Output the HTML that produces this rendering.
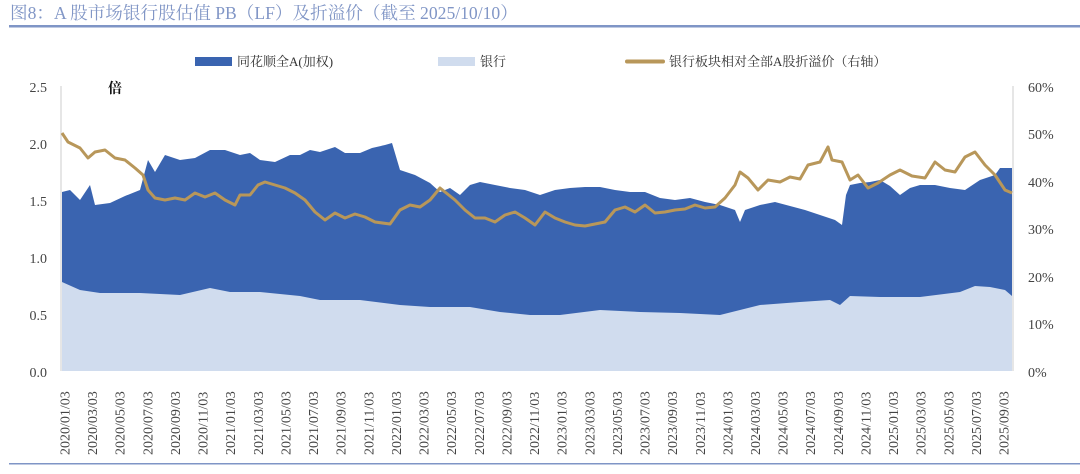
<!DOCTYPE html>
<html><head><meta charset="utf-8"><style>
html,body{margin:0;padding:0;background:#fff;}
body{width:1080px;height:469px;overflow:hidden;}
text{font-family:"Liberation Serif","Noto Serif CJK SC","Noto Sans CJK SC",serif;}
</style></head><body>
<svg width="1080" height="469" viewBox="0 0 1080 469" xmlns="http://www.w3.org/2000/svg">
<text x="10" y="19" font-size="17.6" fill="#8196c6">图8：A 股市场银行股估值 PB（LF）及折溢价（截至 2025/10/10）</text>
<rect x="9" y="25" width="1071" height="2.5" fill="#7f95c6"/>
<rect x="9" y="463" width="1071" height="1.5" fill="#7f95c6"/>
<rect x="195" y="57" width="37" height="9" fill="#3a64b0"/>
<text x="237" y="66" font-size="13" fill="#333">同花顺全A(加权)</text>
<rect x="438" y="57" width="37" height="9" fill="#d0dcee"/>
<text x="480" y="66" font-size="13" fill="#333">银行</text>
<rect x="625" y="59.5" width="40" height="4" rx="2" fill="#b8975a"/>
<text x="669" y="66" font-size="13" fill="#333">银行板块相对全部A股折溢价（右轴）</text>
<text x="108" y="93" font-size="14" font-weight="bold" fill="#111">倍</text>
<line x1="61" y1="86" x2="61" y2="371" stroke="#ccc"/>
<line x1="1013" y1="86" x2="1013" y2="371" stroke="#ccc"/>
<g font-size="14" fill="#444" text-anchor="end">
<text x="47" y="92">2.5</text><text x="47" y="149">2.0</text><text x="47" y="206">1.5</text>
<text x="47" y="263">1.0</text><text x="47" y="320">0.5</text><text x="47" y="377">0.0</text>
</g>
<g font-size="14" fill="#444">
<text x="1028" y="92">60%</text><text x="1028" y="139">50%</text><text x="1028" y="187">40%</text>
<text x="1028" y="234">30%</text><text x="1028" y="282">20%</text><text x="1028" y="329">10%</text><text x="1028" y="377">0%</text>
</g>
<polygon fill="#3a64b0" points="62,371 62,192 70,190 80,200 90,185 95,205 110,203 125,196 140,190 148,160 155,172 165,155 180,160 195,158 210,150 225,150 240,155 250,153 260,160 275,162 290,155 300,155 310,150 320,152 335,147 345,153 360,153 372,148 385,145 392,143 400,170 415,175 430,183 440,192 450,188 460,195 470,185 480,182 495,185 510,188 525,190 540,195 555,190 570,188 585,187 600,187 615,190 630,192 645,192 660,198 675,200 690,198 705,202 720,205 735,210 740,222 745,210 760,205 775,202 790,206 805,210 820,215 835,220 842,225 846,195 850,185 860,183 870,182 880,180 890,186 900,195 910,188 920,185 935,185 950,188 965,190 980,180 995,175 1000,168 1012,168 1012,371"/>
<polygon fill="#d0dcee" points="62,371 62,282 80,290 100,293 140,293 180,295 210,288 230,292 260,292 300,296 320,300 360,300 400,305 430,307 470,307 500,312 530,315 560,315 600,310 640,312 680,313 720,315 760,305 800,302 830,300 840,305 850,296 880,297 920,297 960,292 975,286 990,287 1005,290 1012,296 1012,371"/>
<polyline fill="none" stroke="#b8975a" stroke-width="3" stroke-linejoin="round" points="62,133 68,142 80,148 88,158 95,152 105,150 115,158 125,160 135,168 143,175 148,190 155,198 165,200 175,198 185,200 195,193 205,197 215,193 225,200 235,205 240,195 250,195 258,185 265,182 275,185 285,188 295,193 305,200 315,212 325,220 335,213 345,218 355,214 365,217 375,222 390,224 400,210 410,205 420,207 430,200 440,188 445,192 455,200 465,210 475,218 485,218 495,222 505,215 515,212 525,218 535,225 545,212 555,218 565,222 575,225 585,226 595,224 605,222 615,210 625,207 635,212 645,205 655,213 665,212 675,210 685,209 695,205 705,208 715,207 725,198 735,185 740,172 748,178 758,190 768,180 780,182 790,177 800,179 808,165 820,162 828,147 832,160 842,162 850,180 858,175 868,188 878,183 890,175 900,170 912,176 925,178 935,162 945,170 955,172 965,157 975,152 985,165 995,175 1005,190 1012,193"/>
<g font-size="14" fill="#444" id="xl"></g>
</svg>
<script>
var g=document.getElementById('xl'),s='';
for(var i=0;i<35;i++){var m=i*2,y=2020+Math.floor(m/12),mo=(m%12)+1;
var x=64+i*27.62;var lab=y+'/'+(mo<10?'0':'')+mo+'/03';
s+='<text transform="translate('+(x+5.5)+',455) rotate(-90)">'+lab+'</text>';}
g.innerHTML=s;
</script>
</body></html>
